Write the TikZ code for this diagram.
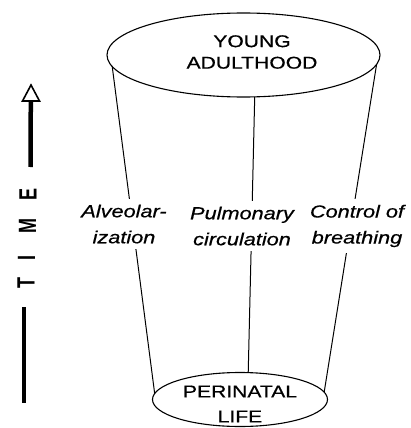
\documentclass[tikz,border=0pt]{standalone}
\usepackage{fontspec}
\setmainfont{Liberation Sans}
\newfontfamily\labfont[FakeStretch=1.24, FakeBold=0.6]{Liberation Sans}
\newfontfamily\timefont[FakeStretch=0.72]{Liberation Sans}
\usetikzlibrary{shapes.geometric}
\tikzset{
  capsule/.style={draw, ellipse, line width=1.1pt, inner sep=0pt, outer sep=0pt},
  capstext/.style={font=\labfont\fontsize{17}{21.5}\selectfont, align=center, inner sep=0pt},
  stagetext/.style={font=\labfont\itshape\fontsize{17.5}{26}\selectfont, align=center, fill=white, inner sep=6pt},
  side/.style={line width=1pt},
  tletter/.style={font=\timefont\bfseries\fontsize{25}{25}\selectfont, rotate=90, inner sep=0pt},
  timebar/.style={line width=4.5pt},
}
\begin{document}
\begin{tikzpicture}[x=1pt,y=-1pt]
\fill[white] (0,0) rectangle (411,428);
\useasboundingbox (0,0) rectangle (411,428);
% ellipses
\node[capsule, minimum width=273pt, minimum height=84pt] (top) at (243.5,55) {};
\node[capsule, minimum width=175pt, minimum height=54pt] (bot) at (240,399.5) {};
\node[capstext] (toptext) at (252,52) {YOUNG\\ADULTHOOD};
\node[capstext, font=\labfont\fontsize{17}{25}\selectfont] (bottext) at (240,404) {PERINATAL\\LIFE};
% lines
\draw[side] (top.185) -- (bot.176);
\draw[side] (top.-4) -- (bot.5);
\draw[side] (top.-75) -- (bot.73);
% stage labels
\node[stagetext] (alv) at (124,224) {Alveolar-\\ization};
\node[stagetext] (pul) at (242,226) {Pulmonary\\circulation};
\node[stagetext] (ctl) at (357,226) {Control of\\breathing};
% time axis
\coordinate (tip) at (31,85);
\coordinate (hl) at (22.5,101);
\coordinate (hr) at (39.5,101);
\coordinate (shafttop) at (30.8,101);
\coordinate (shaftbot) at (30.5,167);
\draw[line width=1.6pt, line join=miter] (tip) -- (hl) -- (hr) -- cycle;
\draw[timebar] (shaftbot) -- (shafttop);
\node[tletter] (le) at (28,194) {E};
\node[tletter] (lm) at (27.5,226) {M};
\node[tletter] (li) at (26.5,258) {I};
\node[tletter] (lt) at (26,283) {T};
\coordinate (bartop) at (24,307);
\coordinate (barbot) at (24,403);
\draw[timebar] (bartop) -- (barbot);
\end{tikzpicture}
\end{document}
